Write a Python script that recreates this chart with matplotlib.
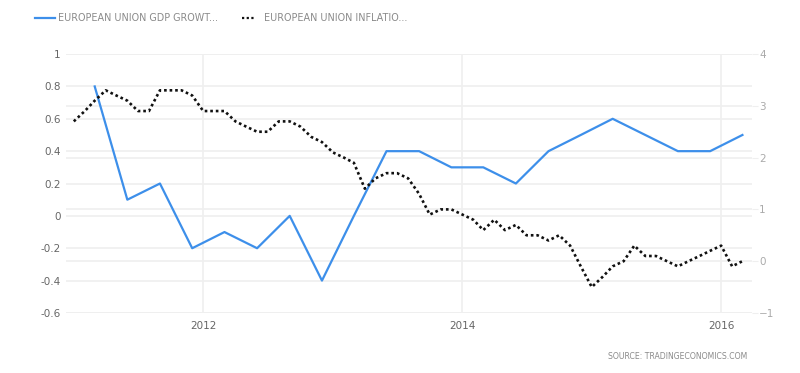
import numpy as np
import pandas as pd
import matplotlib
matplotlib.use("Agg")
import matplotlib.pyplot as plt
import matplotlib.dates as mdates

# GDP growth QoQ (%), quarterly Q1 2011 - Q1 2016
gdp_dates = pd.date_range("2011-03-01", "2016-03-01", freq="3MS")
gdp_values = [0.8, 0.1, 0.2, -0.2, -0.1, -0.2, 0.0, -0.4, 0.0, 0.4, 0.4,
              0.3, 0.3, 0.2, 0.4, 0.5, 0.6, 0.5, 0.4, 0.4, 0.5]

# Inflation rate (%), monthly Jan 2011 - Mar 2016
inf_dates = pd.date_range("2011-01-01", "2016-03-01", freq="MS")
inf_values = [2.7, 2.9, 3.1, 3.3, 3.2, 3.1, 2.9, 2.9, 3.3, 3.3, 3.3, 3.2,
              2.9, 2.9, 2.9, 2.7, 2.6, 2.5, 2.5, 2.7, 2.7, 2.6, 2.4, 2.3,
              2.1, 2.0, 1.9, 1.4, 1.6, 1.7, 1.7, 1.6, 1.3, 0.9, 1.0, 1.0,
              0.9, 0.8, 0.6, 0.8, 0.6, 0.7, 0.5, 0.5, 0.4, 0.5, 0.3, -0.1,
              -0.5, -0.3, -0.1, 0.0, 0.3, 0.1, 0.1, 0.0, -0.1, 0.0, 0.1, 0.2,
              0.3, -0.1, 0.0]

left_ticks = [-0.6, -0.4, -0.2, 0, 0.2, 0.4, 0.6, 0.8, 1]
left_labels = ["-0.6", "-0.4", "-0.2", "0", "0.2", "0.4", "0.6", "0.8", "1"]
right_ticks = [-1, 0, 1, 2, 3, 4]
year_ticks = pd.to_datetime(["2012-01-01", "2014-01-01", "2016-01-01"])

blue = "#3d8fea"
grid_c = "#efefef"
text_c = "#8a8a8a"

plt.rcParams["font.family"] = "DejaVu Sans"
fig = plt.figure(figsize=(8, 3.73), dpi=100)
ax = fig.add_axes([0.0825, 0.161, 0.8575, 0.694])
ax2 = ax.twinx()

ax.set_xlim(pd.Timestamp("2010-12-10"), pd.Timestamp("2016-03-28"))
ax.set_ylim(-0.6, 1)
ax2.set_ylim(-1, 4)

for t in left_ticks:
    ax.axhline(t, color=grid_c, lw=1.2, zorder=0)
for t in right_ticks:
    ax.axhline((t + 1) / 5 * 1.6 - 0.6, color=grid_c, lw=1.2, zorder=0)
for d in year_ticks:
    ax.axvline(d, color=grid_c, lw=1.2, zorder=0)

ax.plot(gdp_dates, gdp_values, color=blue, lw=1.6, zorder=3)
ax2.plot(inf_dates, inf_values, color="#111111", lw=1.9, ls=(0, (1, 1.1)), zorder=3)

ax.set_yticks(left_ticks)
ax.set_yticklabels(left_labels)
ax2.set_yticks(right_ticks)
ax.set_xticks(year_ticks)
ax.xaxis.set_major_formatter(mdates.DateFormatter("%Y"))

for a in (ax, ax2):
    for s in a.spines.values():
        s.set_visible(False)
ax.tick_params(axis="y", length=0, labelsize=7.5, labelcolor="#666666", pad=4)
ax.tick_params(axis="x", length=0, labelsize=7.5, labelcolor="#666666", pad=6)
ax2.tick_params(axis="y", length=4, color=grid_c, labelsize=7.5, labelcolor="#aaaaaa", pad=1)

# legend
fig.add_artist(plt.Line2D([0.044, 0.069], [0.952, 0.952], color=blue, lw=1.6))
fig.text(0.073, 0.952, "EUROPEAN UNION GDP GROWT...", color=text_c, fontsize=6.9, va="center")
fig.add_artist(plt.Line2D([0.302, 0.317], [0.952, 0.952], color="#111111", lw=1.6, ls=(0, (1, 1.1))))
fig.text(0.33, 0.952, "EUROPEAN UNION INFLATIO...", color=text_c, fontsize=6.9, va="center")

fig.text(0.934, 0.043, "SOURCE: TRADINGECONOMICS.COM", color=text_c, fontsize=5.6, ha="right", va="center")

fig.savefig("out.png", dpi=100, facecolor="white")
